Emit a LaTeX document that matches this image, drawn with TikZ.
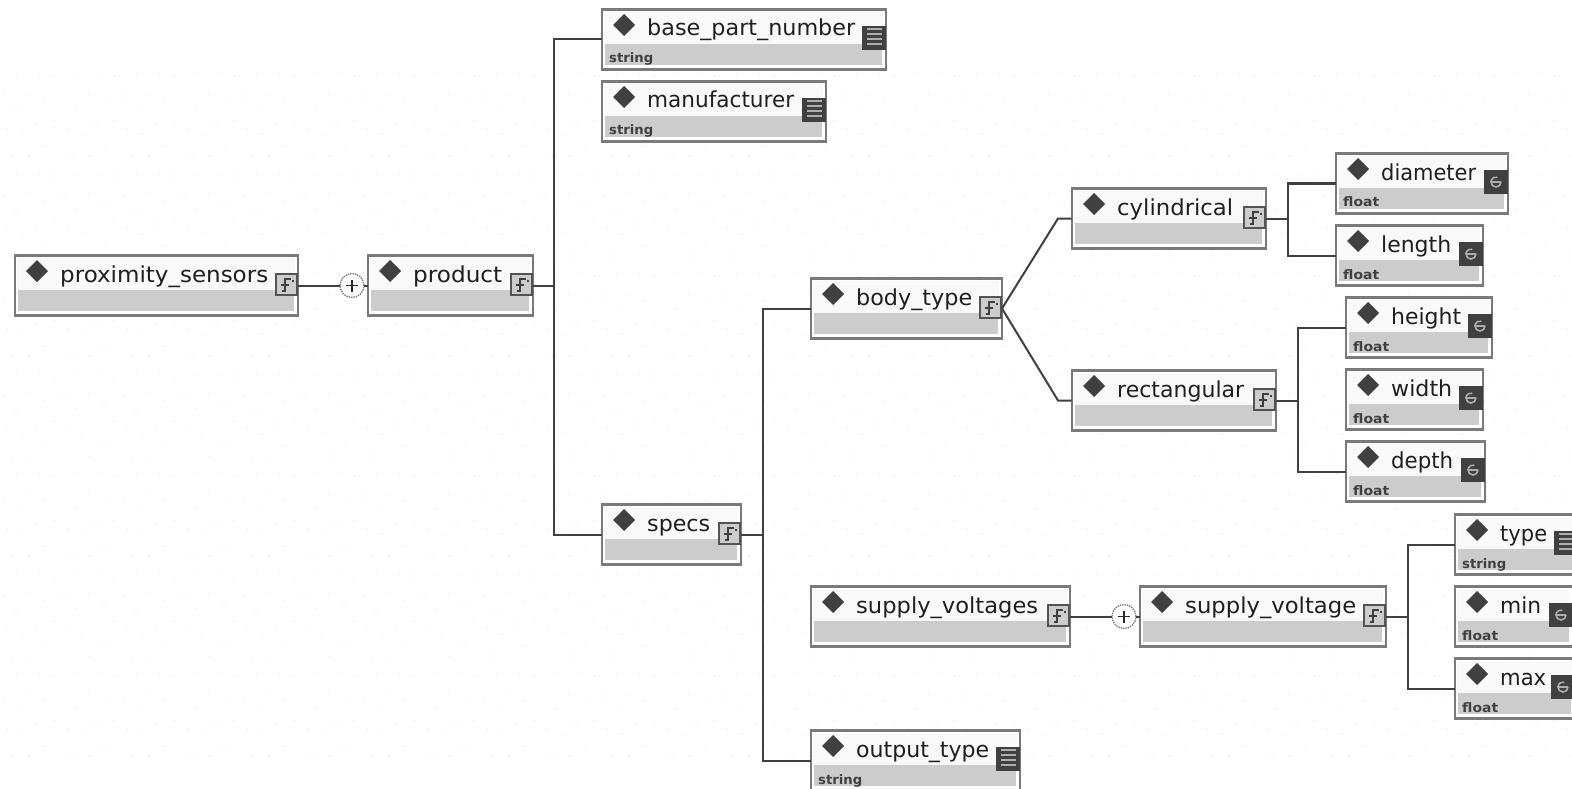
\documentclass[tikz,border=0pt]{standalone}
\usepackage{graphicx}
\usepackage{fontspec}
\setmainfont{DejaVu Sans}
\newcommand\labelfont{\fontsize{22}{24}\selectfont}
\newcommand\typefont{\bfseries\fontsize{13}{14}\selectfont}
\newcommand\fitw[2]{\resizebox{#1pt}{\height}{#2}}
\newcommand\tstr{\fitw{44}{string}}
\newcommand\tflt{\fitw{36}{float}}
\definecolor{boxgray}{gray}{0.48}
\definecolor{bandgray}{gray}{0.80}
\definecolor{topgray}{gray}{0.975}
\definecolor{connblack}{gray}{0.25}
\definecolor{icondark}{gray}{0.25}
\definecolor{iconline}{gray}{0.68}
\tikzset{
  x=1pt,y=-1pt,
  boxframe/.style={draw=boxgray,line width=2.4pt,fill=white,inner sep=0pt,outer sep=0pt,anchor=north west},
  band/.style={fill=bandgray,draw=none},
  conn/.style={draw=connblack,line width=2pt,line join=miter},
  plusc/.style={circle,draw=boxgray,densely dotted,line width=1.4pt,fill=white,minimum size=24pt,inner sep=0pt,outer sep=0pt},
  lbl/.style={anchor=base west,inner sep=0pt,text=black!88},
  typelbl/.style={anchor=base west,inner sep=0pt,text=black!75},
}
% #1 name, #2 x1, #3 y1, #4 x2, #5 text, #6 text width, #7 type, #8 icon macro
\newcommand\elem[8]{%
  \pgfmathsetmacro\bw{#4-#2-0.7}%
  \node[boxframe,minimum width=\bw pt,minimum height=60pt] (#1) at (#2+0.7,#3+0.5) {};
  \fill[topgray] (#2+3,#3+3) rectangle (#4-3,#3+35);
  \fill[band] (#2+4,#3+35) rectangle (#4-4,#3+56);
  \fill[icondark] (#2+23,#3+5) -- (#2+34,#3+16) -- (#2+23,#3+27) -- (#2+12,#3+16) -- cycle;
  \node[lbl] (#1-t) at (#2+46,#3+27) {\labelfont\fitw{#6}{#5}};
  \node[typelbl] (#1-y) at (#2+8,#3+54) {\typefont #7};
  #8{#1}{#4}{#3}%
}
% icon macros: name, right x, top y
\newcommand\cplxicon[3]{%
  \node[draw=icondark!90,line width=2pt,fill=bandgray,minimum size=21pt,inner sep=0pt,outer sep=0pt,anchor=north east] (#1-i) at (#2-1,#3+19) {};
  \draw[icondark,line width=1.4pt] (#2-16,#3+36) -- (#2-13,#3+36) -- (#2-13,#3+24) -- (#2-7,#3+24) (#2-17,#3+30) -- (#2-9,#3+30);
  \draw[icondark,line width=1.2pt] (#2-6,#3+26) -- (#2-4,#3+26);
}
\newcommand\floaticon[3]{%
  \node[fill=icondark,minimum size=24pt,inner sep=0pt,outer sep=0pt,anchor=north east] (#1-i) at (#2,#3+17) {};
  \draw[iconline,line width=1.6pt] (#2-7,#3+29) -- (#2-17,#3+29) arc[start angle=180,end angle=0,radius=5] (#2-17,#3+29) arc[start angle=180,end angle=285,radius=5];
}
\newcommand\docicon[3]{%
  \node[fill=icondark,minimum size=24pt,inner sep=0pt,outer sep=0pt,anchor=north east] (#1-i) at (#2,#3+17) {};
  \foreach \yy in {20,25,30,35}
    \draw[iconline,line width=1.6pt] (#2-19,#3+\yy) -- (#2-4,#3+\yy);
}
\begin{document}
\begin{tikzpicture}
\useasboundingbox (0,0) rectangle (1572,789);
\clip (0,0) rectangle (1572,789);
\fill[white] (0,0) rectangle (1572,789);
% faint background dots
\foreach \i in {0,...,26} \foreach \j in {1,...,7} {
  \foreach \px/\py in {17/14,39/14,54/16,4/36,29/34,44/41,16/49,7/69,22/74,36/64,54/61,44/86,12/96,29/96}
    \fill[black!6] (60*\i+\px,100*\j+\py-40) circle (1);
}
\elem{ps}{14}{255}{298}{proximity\_sensors}{208}{}{\cplxicon}
\elem{prod}{367}{255}{533}{product}{89}{}{\cplxicon}
\elem{bpn}{601}{9}{886}{base\_part\_number}{208}{\tstr}{\docicon}
\elem{mfr}{601}{81}{826}{manufacturer}{147}{\tstr}{\docicon}
\elem{specs}{601}{504}{741}{specs}{63}{}{\cplxicon}
\elem{body}{810}{278}{1002}{body\_type}{116}{}{\cplxicon}
\elem{cyl}{1071}{188}{1266}{cylindrical}{116}{}{\cplxicon}
\elem{rect}{1071}{370}{1276}{rectangular}{127}{}{\cplxicon}
\elem{dia}{1335}{153}{1508}{diameter}{95}{\tflt}{\floaticon}
\elem{len}{1335}{225}{1483}{length}{70}{\tflt}{\floaticon}
\elem{hei}{1345}{297}{1492}{height}{70}{\tflt}{\floaticon}
\elem{wid}{1345}{369}{1483}{width}{61}{\tflt}{\floaticon}
\elem{dep}{1345}{441}{1485}{depth}{62}{\tflt}{\floaticon}
\elem{sv}{810}{586}{1070}{supply\_voltages}{182}{}{\cplxicon}
\elem{svi}{1139}{586}{1386}{supply\_voltage}{171}{}{\cplxicon}
\elem{typ}{1454}{514}{1578}{type}{47}{\tstr}{\docicon}
\elem{mn}{1454}{586}{1573}{min}{41}{\tflt}{\floaticon}
\elem{mx}{1454}{658}{1575}{max}{46}{\tflt}{\floaticon}
\elem{out}{810}{730}{1020}{output\_type}{133}{\tstr}{\docicon}
% compositor circles
\node[plusc] (c1) at (352,285.5) {};
\node[plusc] (c2) at (1124,616.5) {};
\foreach \c in {c1,c2} \draw[black!85,line width=1.6pt] ([xshift=-6pt]\c.center) -- ([xshift=6pt]\c.center) ([yshift=-6pt]\c.center) -- ([yshift=6pt]\c.center);
% connectors
\coordinate (j1) at (554,285.5);
\coordinate (j2) at (763,534.5);
\coordinate (j3) at (1288,218.5);
\coordinate (j4) at (1298,400.5);
\coordinate (j5) at (1408,616.5);
\coordinate (b1) at (1058,218.5);
\coordinate (b2) at (1058,400.5);
\draw[conn] (ps.east) -- (c1);
\draw[conn] (c1) -- (prod.west);
\draw[conn] (prod.east) -- (j1);
\draw[conn] (bpn.west) -| (j1) |- (specs.west);
\draw[conn] (specs.east) -- (j2);
\draw[conn] (body.west) -| (j2) |- (out.west);
\draw[conn] (body.east) -- (b1) -- (cyl.west);
\draw[conn] (body.east) -- (b2) -- (rect.west);
\draw[conn] (cyl.east) -- (j3);
\draw[conn] (dia.west) -| (j3) |- (len.west);
\draw[conn] (rect.east) -- (j4);
\draw[conn] (hei.west) -| (j4) |- (dep.west);
\draw[conn] (sv.east) -- (c2);
\draw[conn] (c2) -- (svi.west);
\draw[conn] (svi.east) -- (j5);
\draw[conn] (typ.west) -| (j5) |- (mx.west);
\end{tikzpicture}
\end{document}
